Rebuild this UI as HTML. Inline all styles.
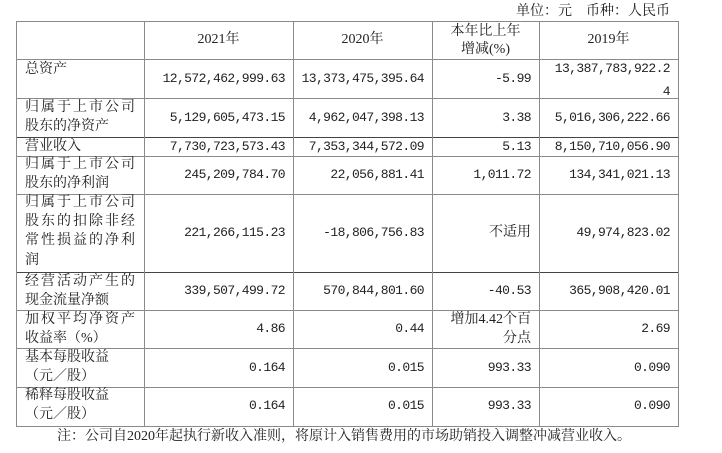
<!DOCTYPE html>
<html><head><meta charset="utf-8"><style>
body{margin:0;background:#fff;}
#c{position:relative;width:722px;height:453px;overflow:hidden;background:#fff;color:#222;font-family:"Liberation Serif","Noto Serif CJK SC",serif;}
.t{position:absolute;height:20px;line-height:20px;font-size:14px;white-space:nowrap;}
.n{font-family:"Liberation Mono","Noto Serif CJK SC",monospace;font-size:13px;letter-spacing:-0.6px;text-align:right;}
.h{position:absolute;height:1px;background:#8a8a8a;left:16px;width:663px;}
.v{position:absolute;width:1px;background:#8a8a8a;top:21px;height:406px;}
.s{letter-spacing:2px;}
</style></head><body><div id="c">
<div class="t" style="right:52px;top:2px;">单位：元　币种：人民币</div>
<div class="h" style="top:21px"></div><div class="h" style="top:59px"></div><div class="h" style="top:98px"></div><div class="h" style="top:137px;background:#444"></div><div class="h" style="top:156px"></div><div class="h" style="top:194px"></div><div class="h" style="top:272px;background:#444"></div><div class="h" style="top:310px"></div><div class="h" style="top:348px"></div><div class="h" style="top:387px"></div><div class="h" style="top:426px"></div>
<div class="v" style="left:16px"></div><div class="v" style="left:144px"></div><div class="v" style="left:293px"></div><div class="v" style="left:432px"></div><div class="v" style="left:539px"></div><div class="v" style="left:678px"></div>

<div class="t" style="left:144px;width:149px;text-align:center;top:30px">2021年</div>
<div class="t" style="left:293px;width:139px;text-align:center;top:30px">2020年</div>
<div class="t" style="left:432px;width:107px;text-align:center;top:22px">本年比上年</div>
<div class="t" style="left:432px;width:107px;text-align:center;top:40px">增减(%)</div>
<div class="t" style="left:539px;width:139px;text-align:center;top:30px">2019年</div>

<div class="t" style="left:25px;top:60px">总资产</div>
<div class="t n" style="right:437px;top:69px">12,572,462,999.63</div>
<div class="t n" style="right:298px;top:69px">13,373,475,395.64</div>
<div class="t n" style="right:191px;top:69px">-5.99</div>
<div class="t n" style="right:52px;top:59px">13,387,783,922.2</div>
<div class="t n" style="right:52px;top:82px">4</div>

<div class="t s" style="left:25px;top:98px">归属于上市公司</div>
<div class="t" style="left:25px;top:117px">股东的净资产</div>
<div class="t n" style="right:437px;top:108px">5,129,605,473.15</div>
<div class="t n" style="right:298px;top:108px">4,962,047,398.13</div>
<div class="t n" style="right:191px;top:108px">3.38</div>
<div class="t n" style="right:52px;top:108px">5,016,306,222.66</div>

<div class="t" style="left:25px;top:137px">营业收入</div>
<div class="t n" style="right:437px;top:137px">7,730,723,573.43</div>
<div class="t n" style="right:298px;top:137px">7,353,344,572.09</div>
<div class="t n" style="right:191px;top:137px">5.13</div>
<div class="t n" style="right:52px;top:137px">8,150,710,056.90</div>

<div class="t s" style="left:25px;top:155px">归属于上市公司</div>
<div class="t" style="left:25px;top:174px">股东的净利润</div>
<div class="t n" style="right:437px;top:165px">245,209,784.70</div>
<div class="t n" style="right:298px;top:165px">22,056,881.41</div>
<div class="t n" style="right:191px;top:165px">1,011.72</div>
<div class="t n" style="right:52px;top:165px">134,341,021.13</div>

<div class="t s" style="left:25px;top:193px">归属于上市公司</div>
<div class="t s" style="left:25px;top:212px">股东的扣除非经</div>
<div class="t s" style="left:25px;top:231px">常性损益的净利</div>
<div class="t" style="left:25px;top:251px">润</div>
<div class="t n" style="right:437px;top:223px">221,266,115.23</div>
<div class="t n" style="right:298px;top:223px">-18,806,756.83</div>
<div class="t" style="right:191px;top:223px">不适用</div>
<div class="t n" style="right:52px;top:223px">49,974,823.02</div>

<div class="t s" style="left:25px;top:272px">经营活动产生的</div>
<div class="t" style="left:25px;top:291px">现金流量净额</div>
<div class="t n" style="right:437px;top:281px">339,507,499.72</div>
<div class="t n" style="right:298px;top:281px">570,844,801.60</div>
<div class="t n" style="right:191px;top:281px">-40.53</div>
<div class="t n" style="right:52px;top:281px">365,908,420.01</div>

<div class="t s" style="left:25px;top:310px">加权平均净资产</div>
<div class="t" style="left:25px;top:329px">收益率（%）</div>
<div class="t n" style="right:437px;top:319px">4.86</div>
<div class="t n" style="right:298px;top:319px">0.44</div>
<div class="t" style="right:191px;top:310px">增加4.42个百</div>
<div class="t" style="right:191px;top:329px">分点</div>
<div class="t n" style="right:52px;top:319px">2.69</div>

<div class="t" style="left:25px;top:348px">基本每股收益</div>
<div class="t" style="left:25px;top:367px">（元／股）</div>
<div class="t n" style="right:437px;top:358px">0.164</div>
<div class="t n" style="right:298px;top:358px">0.015</div>
<div class="t n" style="right:191px;top:358px">993.33</div>
<div class="t n" style="right:52px;top:358px">0.090</div>

<div class="t" style="left:25px;top:386px">稀释每股收益</div>
<div class="t" style="left:25px;top:405px">（元／股）</div>
<div class="t n" style="right:437px;top:396px">0.164</div>
<div class="t n" style="right:298px;top:396px">0.015</div>
<div class="t n" style="right:191px;top:396px">993.33</div>
<div class="t n" style="right:52px;top:396px">0.090</div>

<div class="t" style="left:57px;top:427px">注：公司自2020年起执行新收入准则，将原计入销售费用的市场助销投入调整冲减营业收入。</div>
</div></body></html>
